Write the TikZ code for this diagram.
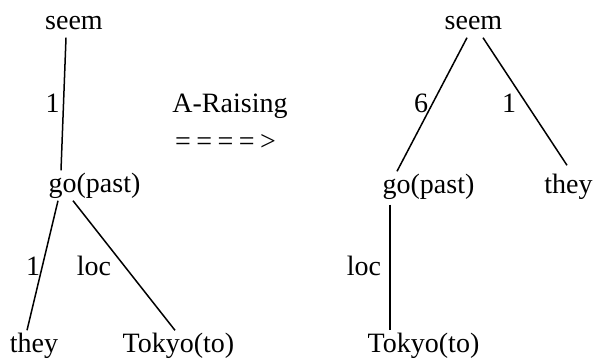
\documentclass[tikz,border=0pt]{standalone}
\usepackage{fontspec}
\setmainfont{Liberation Serif}
\usepackage{tikz}
\usetikzlibrary{positioning,calc}

\begin{document}
\begin{tikzpicture}[
  x=1pt, y=1pt,
  word/.style={anchor=base, inner sep=1.5pt, text height=20pt, text depth=7pt, font=\fontsize{28}{32}\selectfont},
  rel/.style={anchor=base, inner sep=0pt, font=\fontsize{28}{32}\selectfont},
  edge/.style={line width=1.5pt, color=black}
]
\useasboundingbox (0,0) rectangle (594,360);

% Left tree
\node[word] (seemL) at (74,331) {seem};
\node[word] (goL) at (94.5,168) {go(past)};
\node[word] (theyL) at (34,8) {they};
\node[word] (tokyoL) at (178.5,8) {Tokyo(to)};

\draw[edge] ([xshift=-8pt]seemL.south) -- ([xshift=-33.5pt]goL.north);
\draw[edge] ([xshift=-36.5pt]goL.south) -- ([xshift=-7pt]theyL.north);
\draw[edge] ([xshift=-21.5pt]goL.south) -- ([xshift=-3.5pt]tokyoL.north);

\node[rel] (r1) at (52.5,248) {1};
\node[rel] (r2) at (33,85) {1};
\node[rel] (r3) at (94,85) {loc};

% Transformation
\node[rel] (rule) at (230,248) {A-Raising};
\node[rel] (arrow) at (225.5,210) {=\kern5.5pt=\kern5.5pt=\kern5.5pt=\kern5.5pt>};

% Right tree
\node[word] (seemR) at (473.5,331) {seem};
\node[word] (goR) at (428.5,167) {go(past)};
\node[word] (theyR) at (568.5,167) {they};
\node[word] (tokyoR) at (423.5,8) {Tokyo(to)};

\draw[edge] ([xshift=-6.5pt]seemR.south) -- ([xshift=-31.5pt]goR.north);
\draw[edge] ([xshift=9.5pt]seemR.south) -- ([xshift=-1.5pt,yshift=6pt]theyR.north);
\draw[edge] ([xshift=-38.5pt,yshift=-3pt]goR.south) -- ([xshift=-33.5pt]tokyoR.north);

\node[rel] (r4) at (421,248) {6};
\node[rel] (r5) at (509,248) {1};
\node[rel] (r6) at (364,85) {loc};

\end{tikzpicture}
\end{document}
